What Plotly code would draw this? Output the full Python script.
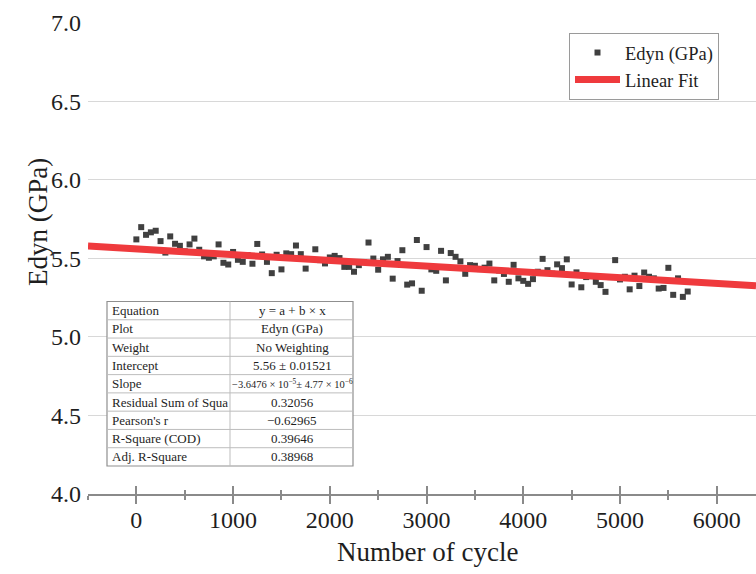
import plotly.graph_objects as go

# Measured dynamic modulus, one reading every 50 cycles
cycle_step = 50
edyn_gpa = [
    5.621, 5.699, 5.650, 5.666, 5.676, 5.610, 5.537, 5.640, 5.593, 5.580,
    5.545, 5.589, 5.626, 5.555, 5.513, 5.504, 5.513, 5.589, 5.472, 5.461,
    5.541, 5.491, 5.478, 5.521, 5.466, 5.592, 5.525, 5.478, 5.406, 5.523,
    5.430, 5.532, 5.527, 5.582, 5.527, 5.435, 5.496, 5.558, 5.489, 5.468,
    5.506, 5.516, 5.502, 5.446, 5.446, 5.415, 5.457, 5.476, 5.601, 5.499,
    5.428, 5.494, 5.510, 5.371, 5.483, 5.552, 5.333, 5.341, 5.617, 5.294,
    5.572, 5.430, 5.421, 5.548, 5.360, 5.534, 5.510, 5.481, 5.402, 5.457,
    5.453, 5.432, 5.441, 5.467, 5.360, 5.423, 5.401, 5.351, 5.459, 5.373,
    5.357, 5.338, 5.368, 5.415, 5.497, 5.425, 5.403, 5.462, 5.438, 5.494,
    5.334, 5.411, 5.316, 5.381, 5.387, 5.351, 5.330, 5.287, 5.381, 5.489,
    5.366, 5.383, 5.303, 5.390, 5.324, 5.410, 5.383, 5.373, 5.308, 5.312,
    5.440, 5.268, 5.373, 5.255, 5.289,
]
cycles = [i * cycle_step for i in range(len(edyn_gpa))]

# Linear fit results
fit_intercept = 5.56
fit_slope = -3.6476e-5
x_range = [-500, 6406]
fit_x = x_range
fit_y = [fit_intercept + fit_slope * x for x in fit_x]

# Fit summary table (first column is clipped to its cell width)
table_labels = ["Equation", "Plot", "Weight", "Intercept", "Slope",
                "Residual Sum of Squa", "Pearson's r", "R-Square (COD)",
                "Adj. R-Square"]
table_values = ["y = a + b × x", "Edyn (GPa)", "No Weighting", "5.56 ± 0.01521",
                "−3.6476 × 10<sup>−5</sup>± 4.77 × 10<sup>−6</sup>",
                "0.32056", "−0.62965", "0.39646", "0.38968"]

x_ticks = [0, 1000, 2000, 3000, 4000, 5000, 6000]
y_ticks = [4.0, 4.5, 5.0, 5.5, 6.0, 6.5, 7.0]

W, H = 756, 574
ML, MR, MT, MB = 88, 0, 22, 80
PW, PH = W - ML - MR, H - MT - MB


def px_x(p):
    return (p - ML) / PW


def px_y(p):
    return (H - MB - p) / PH


SERIF = "Liberation Serif"
TXT = "#1e1e1e"
AXC = "#8a8a8a"

fig = go.Figure()
fig.add_trace(go.Scatter(
    x=cycles, y=edyn_gpa, mode="markers", name="Edyn (GPa)",
    marker=dict(symbol="square", size=6, color="#404040"),
))
fig.add_trace(go.Scatter(
    x=fit_x, y=fit_y, mode="lines", name="Linear Fit",
    line=dict(color="#ef3a3d", width=7),
))
# companion axis carrying the upward half of the tick marks
fig.add_trace(go.Scatter(x=[], y=[], xaxis="x2", showlegend=False,
                         hoverinfo="skip"))

# ---- summary table box built from shapes + annotations ----
tb_left, tb_right, tb_top, tb_bottom = 107, 353, 301.5, 466
tb_mid = 230
n_rows = len(table_labels)
row_h = (tb_bottom - tb_top) / n_rows

shapes = [dict(type="rect", xref="paper", yref="paper",
               x0=px_x(tb_left), x1=px_x(tb_right),
               y0=px_y(tb_bottom), y1=px_y(tb_top),
               fillcolor="white", line=dict(color="#8f8f8f", width=1.2),
               layer="above")]
for r in range(1, n_rows):
    yy = px_y(tb_top + r * row_h)
    shapes.append(dict(type="line", xref="paper", yref="paper",
                       x0=px_x(tb_left), x1=px_x(tb_right), y0=yy, y1=yy,
                       line=dict(color="#bdbdbd", width=1), layer="above"))
shapes.append(dict(type="line", xref="paper", yref="paper",
                   x0=px_x(tb_mid), x1=px_x(tb_mid),
                   y0=px_y(tb_bottom), y1=px_y(tb_top),
                   line=dict(color="#bdbdbd", width=1), layer="above"))

annotations = []
for r, (lab, val) in enumerate(zip(table_labels, table_values)):
    yc = px_y(tb_top + (r + 0.5) * row_h)
    annotations.append(dict(
        text=lab, x=px_x(tb_left + 3), y=yc, xref="paper", yref="paper",
        xanchor="left", yanchor="middle", showarrow=False,
        font=dict(family=SERIF, size=13, color=TXT)))
    annotations.append(dict(
        text=val, x=px_x((tb_mid + tb_right) / 2 + 0.5), y=yc,
        xref="paper", yref="paper", xanchor="center", yanchor="middle",
        showarrow=False,
        font=dict(family=SERIF, size=10.5 if r == 4 else 13, color=TXT)))

annotations += [
    dict(text="Edyn (GPa)", x=px_x(38), y=px_y(222), xref="paper",
         yref="paper", textangle=-90, showarrow=False,
         xanchor="center", yanchor="middle",
         font=dict(family=SERIF, size=27, color=TXT)),
    dict(text="Number of cycle", x=px_x(427), y=px_y(552), xref="paper",
         yref="paper", showarrow=False, xanchor="center",
         yanchor="middle", font=dict(family=SERIF, size=27, color=TXT)),
]

fig.update_layout(
    width=W, height=H,
    margin=dict(l=ML, r=MR, t=MT, b=MB, pad=0),
    paper_bgcolor="white", plot_bgcolor="white",
    font=dict(family=SERIF, color=TXT),
    showlegend=True,
    legend=dict(
        x=px_x(569), y=px_y(33), xanchor="left", yanchor="top",
        bgcolor="white", bordercolor="#9a9a9a", borderwidth=1,
        font=dict(family=SERIF, size=18.5, color=TXT),
        tracegroupgap=0, itemwidth=45,
    ),
    xaxis=dict(
        range=x_range, tickvals=x_ticks, ticktext=[str(v) for v in x_ticks],
        showgrid=False, zeroline=False,
        showline=True, linecolor=AXC, linewidth=1.5,
        ticks="outside", ticklen=8, tickwidth=1.5, tickcolor=AXC,
        minor=dict(ticks="outside", ticklen=4, tickwidth=1.5, tickcolor=AXC,
                   dtick=500, tick0=-500, showgrid=False),
        tickfont=dict(family=SERIF, size=24, color=TXT),
        ticklabelstandoff=-5,
    ),
    xaxis2=dict(
        overlaying="x", anchor="y", side="bottom", range=x_range,
        tickvals=x_ticks, showticklabels=False, showgrid=False, zeroline=False,
        showline=False,
        ticks="inside", ticklen=8, tickwidth=1.5, tickcolor=AXC,
        minor=dict(ticks="inside", ticklen=4, tickwidth=1.5, tickcolor=AXC,
                   dtick=500, tick0=-500, showgrid=False),
    ),
    yaxis=dict(
        range=[4.0, 7.005], tickvals=y_ticks,
        ticktext=[f"{v:.1f}" for v in y_ticks],
        showgrid=True, gridcolor="#d8d8d8", gridwidth=1,
        zeroline=False, showline=False, ticks="",
        tickfont=dict(family=SERIF, size=24, color=TXT),
        ticklabelstandoff=6,
    ),
    shapes=shapes,
    annotations=annotations,
)

fig.write_html("out.html")
